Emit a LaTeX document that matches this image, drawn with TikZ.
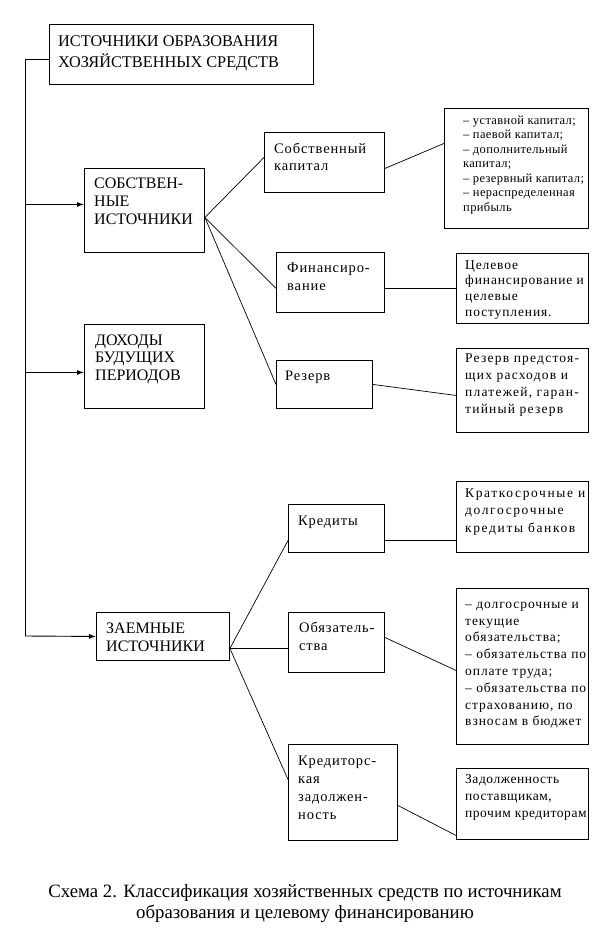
\documentclass[tikz,border=0pt]{standalone}
\usepackage{fontspec}
\setmainfont{Liberation Serif}
\usetikzlibrary{arrows.meta}
\newcommand\mybx[5]{\node[boxnode, minimum width={#4-#2}, minimum height={#5-#3}] (#1) at (#2,#3) {};}
\newcommand\mytx[7]{\node[anchor=north west, inner sep=0, align=left, font=\fontsize{#4}{#5}\selectfont\addfontfeature{LetterSpace=#6}] (#1) at (#2,{#3-#4}) {\rule{0pt}{#4pt}#7};}
\begin{document}
\begin{tikzpicture}[x=1pt,y=-1pt,
  boxnode/.style={draw, line width=0.9pt, inner sep=0, anchor=north west},
  conn/.style={line width=0.7pt},
  arr/.style={line width=0.9pt, -{Latex[length=7pt,width=5pt]}},
  ]
\useasboundingbox (0,0) rectangle (613,949);
\fill[white] (0,0) rectangle (613,949);

% boxes
\mybx{title}{49}{24}{313}{84}
\mybx{sob}{84}{168}{204}{252}
\mybx{doh}{84}{324}{204}{408}
\mybx{zaem}{96}{612}{229}{660}
\mybx{sk}{264}{132}{384}{192}
\mybx{fin}{276}{252}{384}{312}
\mybx{rez}{276}{360}{372}{408}
\mybx{kr}{288}{504}{384}{552}
\mybx{ob}{288}{612}{384}{672}
\mybx{kz}{288}{744}{397}{840}
\mybx{b1}{444}{108}{588}{228}
\mybx{b2}{456}{253}{588}{323}
\mybx{b3}{456}{348}{588}{432}
\mybx{b4}{456}{481}{588}{552}
\mybx{b5}{456}{588}{588}{744}
\mybx{b6}{456}{768}{588}{839}

% texts
\mytx{titlet}{58}{46}{16.3}{21}{0}{ИСТОЧНИКИ ОБРАЗОВАНИЯ\\ХОЗЯЙСТВЕННЫХ СРЕДСТВ}
\mytx{sobt}{94}{188}{16}{18}{0}{СОБСТВЕН-\\НЫЕ\\ИСТОЧНИКИ}
\mytx{doht}{95}{345}{16}{17.5}{0}{ДОХОДЫ\\БУДУЩИХ\\ПЕРИОДОВ}
\mytx{zaemt}{106}{633}{16}{18}{0}{ЗАЕМНЫЕ\\ИСТОЧНИКИ}
\mytx{skt}{274}{153}{14.5}{17}{6}{Собственный\\капитал}
\mytx{fint}{287}{272}{14.5}{18}{6}{Финансиро-\\вание}
\mytx{rezt}{285}{380}{14.5}{18}{6}{Резерв}
\mytx{krt}{298}{525}{14.5}{18}{6}{Кредиты}
\mytx{obt}{299}{632}{14.5}{18}{6}{Обязатель-\\ства}
\mytx{kzt}{298}{765}{14.5}{18}{6}{Кредиторс-\\кая\\задолжен-\\ность}
\mytx{b1t}{463}{124}{12.5}{14.5}{3}{– уставной капитал;\\– паевой капитал;\\– дополнительный\\капитал;\\– резервный капитал;\\– нераспределенная\\прибыль}
\mytx{b2t}{465}{269}{13.5}{15.7}{6.5}{Целевое\\финансирование и\\целевые\\поступления.}
\mytx{b3t}{465}{362}{13.5}{17}{9}{Резерв предстоя-\\щих расходов и\\платежей, гаран-\\тийный резерв}
\mytx{b4t}{465}{497}{13.5}{17.5}{12}{Краткосрочные и\\долгосрочные\\кредиты банков}
\mytx{b5t}{465}{608}{13.5}{16.8}{7}{– долгосрочные и\\текущие\\обязательства;\\– обязательства по\\оплате труда;\\– обязательства по\\страхованию, по\\взносам в бюджет}
\mytx{b6t}{465}{783}{13.5}{17}{4}{Задолженность\\поставщикам,\\прочим кредиторам}

\node[anchor=north, inner sep=0, align=center, font=\fontsize{18.8}{21.5}\selectfont] (cap) at (305,{897-18.8}) {\rule{0pt}{18.8pt}Схема 2. Классификация хозяйственных средств по источникам\\образования и целевому финансированию};

% trunk
\coordinate (tr) at (25,636);
\draw[conn, line width=0.9pt] ([yshift=-5pt]title.west) -| (tr);
\draw[arr] (tr) -- (zaem.west);
\draw[arr] ([yshift=6pt]sob.west -| tr) -- ([yshift=6pt]sob.west);
\draw[arr] ([yshift=-6pt]doh.west -| tr) -- ([yshift=-6pt]doh.west);

% connectors
\draw[conn] ([yshift=-7pt]sob.east) -- ([yshift=5pt]sk.west);
\draw[conn] ([yshift=-7pt]sob.east) -- ([yshift=-6pt]fin.west);
\draw[conn] ([yshift=-7pt]sob.east) -- (rez.west);
\draw[conn] ([yshift=-6pt]sk.east) -- ([yshift=25pt]b1.west);
\draw[conn] ([yshift=-6pt]fin.east) -- (b2.west);
\draw[conn] (rez.east) -- ([yshift=-5pt]b3.west);
\draw[conn] ([yshift=-12pt]zaem.east) -- ([yshift=-12pt]kr.west);
\draw[conn] ([yshift=-12pt]zaem.east) -- ([yshift=-6pt]ob.west);
\draw[conn] ([yshift=-12pt]zaem.east) -- ([yshift=13pt]kz.west);
\draw[conn] ([yshift=-12pt]kr.east) -- ([yshift=-23.5pt]b4.west);
\draw[conn] ([yshift=5pt]ob.east) -- ([yshift=-4pt]b5.west);
\draw[conn] ([yshift=-13pt]kz.east) -- ([yshift=-31.5pt]b6.west);
\end{tikzpicture}
\end{document}
